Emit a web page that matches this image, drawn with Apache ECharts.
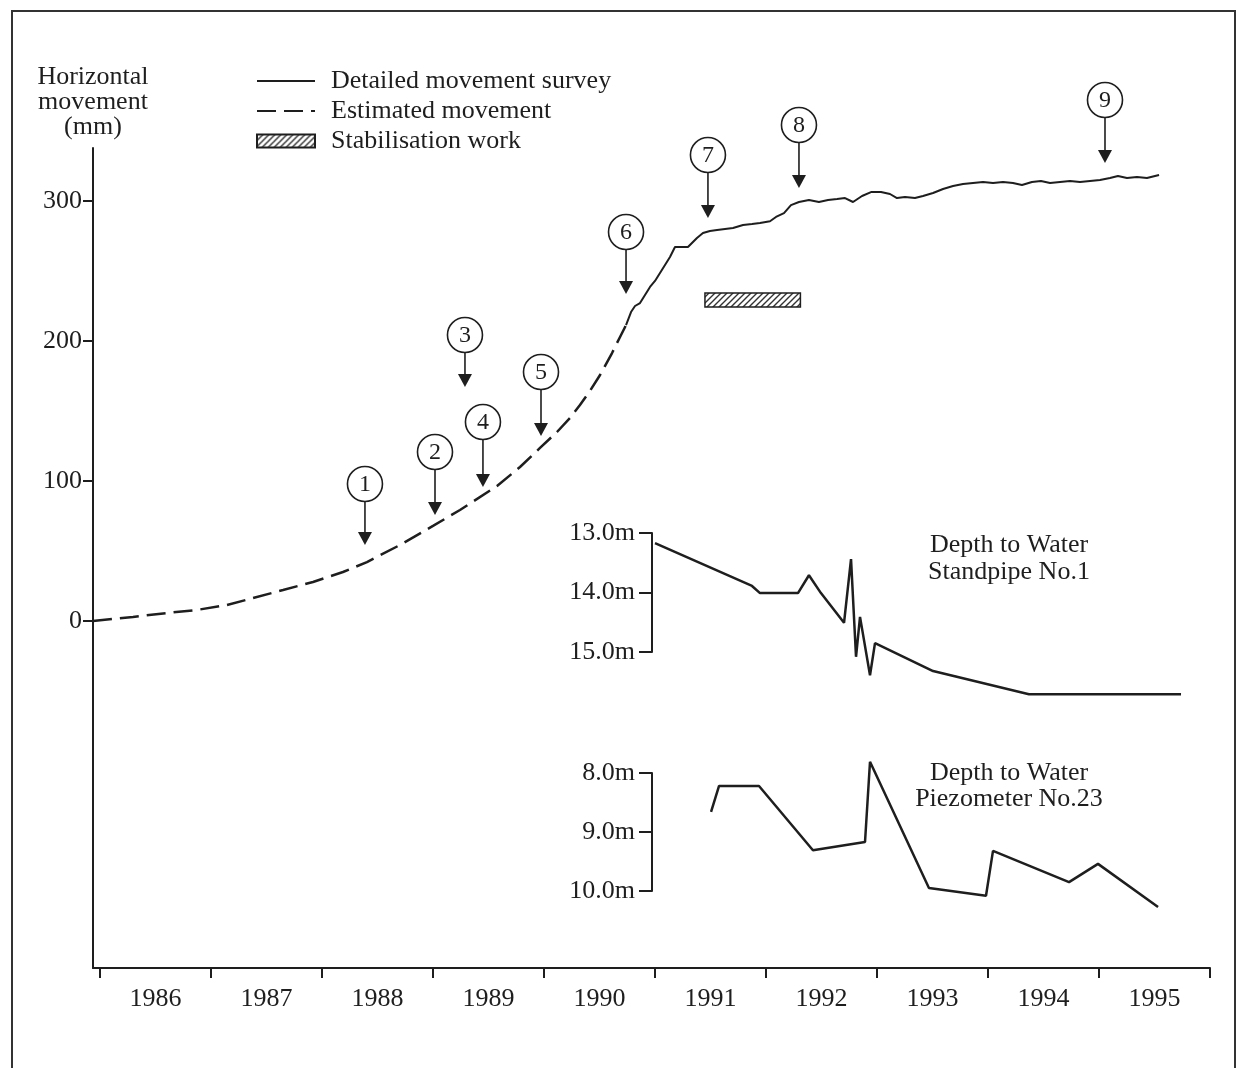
<!DOCTYPE html>
<html>
<head>
<meta charset="utf-8">
<script src="https://cdn.jsdelivr.net/npm/echarts@6/dist/echarts.min.js"></script>
<style>
  html, body { margin: 0; padding: 0; background: #fff; }
  #chart { width: 1246px; height: 1068px; }
</style>
</head>
<body>
<div id="chart"></div>
<script>
// estimated movement (dashed), year vs mm
const estYears = [1985.937, 1986.297, 1986.604, 1986.874, 1987.144, 1987.378, 1987.649, 1987.919, 1988.189, 1988.405,
  1988.703, 1989.0, 1989.243, 1989.577, 1989.784, 1989.964, 1990.117, 1990.234, 1990.324, 1990.414,
  1990.505, 1990.613, 1990.685, 1990.739]
const estMovement = [0, 2.9, 5.7, 7.9, 11.4, 16.4, 22.1, 27.9, 35, 42.1,
  54.3, 67.9, 79.3, 96.4, 110, 123.6, 135, 145, 154.3, 164.3,
  175.7, 191.4, 202.9, 211.4]

// detailed movement survey (solid)
const surveyYears = [1990.739, 1990.784, 1990.820, 1990.865, 1990.910, 1990.955, 1991.000, 1991.045, 1991.090, 1991.135,
  1991.180, 1991.297, 1991.378, 1991.432, 1991.495, 1991.559, 1991.631, 1991.703, 1991.793, 1991.874,
  1991.946, 1992.036, 1992.090, 1992.162, 1992.225, 1992.297, 1992.387, 1992.477, 1992.559, 1992.640,
  1992.712, 1992.784, 1992.865, 1992.946, 1993.036, 1993.117, 1993.180, 1993.252, 1993.342, 1993.414,
  1993.505, 1993.595, 1993.685, 1993.775, 1993.865, 1993.955, 1994.045, 1994.135, 1994.225, 1994.306,
  1994.396, 1994.477, 1994.559, 1994.649, 1994.739, 1994.829, 1994.919, 1995.009, 1995.099, 1995.171,
  1995.252, 1995.342, 1995.432, 1995.541]
const surveyMovement = [211.4, 220.7, 225, 227.1, 232.9, 238.6, 242.9, 248.6, 254.3, 260,
  267.1, 267.1, 273.6, 277.1, 278.6, 279.3, 280, 280.7, 282.9, 283.6,
  284.3, 285.5, 288.6, 291.4, 297.1, 299.3, 300.7, 299.3, 300.7, 301.4,
  302.1, 299.3, 303.6, 306.4, 306.4, 305, 302.1, 302.9, 302.1, 303.6,
  305.7, 308.6, 310.7, 312.1, 312.9, 313.6, 312.9, 313.6, 312.9, 311.4,
  313.6, 314.3, 312.9, 313.6, 314.3, 313.6, 314.3, 315, 316.4, 317.9,
  316.4, 317.1, 316.4, 318.6]

// stabilisation work period and band (mm)
const stabPeriod = [1991.45, 1992.31]
const stabBand = [224.3, 234.3]

// numbered events
const markerNums = ['1', '2', '3', '4', '5', '6', '7', '8', '9']
const markerYears = [1988.387, 1989.018, 1989.288, 1989.450, 1989.973, 1990.739, 1991.477, 1992.297, 1995.054]
const markerTips = [54.3, 75.7, 167.1, 95.7, 132.1, 233.6, 287.9, 309.3, 327.1]
const markerCircles = [97.9, 120.7, 204.3, 142.1, 177.9, 277.9, 332.9, 354.3, 372.1]

// depth to water, standpipe no.1 (m)
const standpipeYears = [1991.0, 1991.874, 1991.946, 1992.288, 1992.387, 1992.495, 1992.703, 1992.766, 1992.811, 1992.847,
  1992.937, 1992.982, 1993.505, 1994.369, 1995.739]
const standpipeDepth = [13.17, 13.89, 14.01, 14.01, 13.71, 14.01, 14.51, 13.44, 15.08, 14.41,
  15.39, 14.85, 15.32, 15.71, 15.71]

// depth to water, piezometer no.23 (m)
const piezoYears = [1991.505, 1991.577, 1991.937, 1992.423, 1992.892, 1992.937, 1993.468, 1993.982, 1994.045, 1994.730,
  1994.991, 1995.532]
const piezoDepth = [8.66, 8.22, 8.22, 9.31, 9.17, 7.81, 9.95, 10.08, 9.32, 9.85,
  9.54, 10.27]

const yearTicks = [1986, 1987, 1988, 1989, 1990, 1991, 1992, 1993, 1994, 1995, 1996]
const yearLabels = [1986.5, 1987.5, 1988.5, 1989.5, 1990.5, 1991.5, 1992.5, 1993.5, 1994.5, 1995.5]
const movementTicks = [0, 100, 200, 300]

const ink = '#1e1e1e'
const serif = '"Liberation Serif", "DejaVu Serif", serif'
const xMin = 1986 - 7 / 111

const zip = (xs, ys) => xs.map((x, i) => [x, ys[i]])

// hatch fill for the stabilisation bar
const hatch = document.createElement('canvas')
hatch.width = 6
hatch.height = 6
const hc = hatch.getContext('2d')
hc.fillStyle = '#fff'
hc.fillRect(0, 0, 6, 6)
hc.strokeStyle = '#333'
hc.lineWidth = 1.4
hc.beginPath()
hc.moveTo(0, 6); hc.lineTo(6, 0)
hc.moveTo(-1, 1); hc.lineTo(1, -1)
hc.moveTo(5, 7); hc.lineTo(7, 5)
hc.stroke()
const hatchFill = { image: hatch, repeat: 'repeat' }

function renderMarker(params, api) {
  const tip = api.coord([api.value(0), api.value(1)])
  const ctr = api.coord([api.value(0), api.value(2)])
  const r = 17.5
  const head = 13
  return {
    type: 'group',
    children: [
      { type: 'line', shape: { x1: ctr[0], y1: ctr[1] + r, x2: tip[0], y2: tip[1] - head + 1 }, style: { stroke: ink, lineWidth: 1.6 } },
      { type: 'polygon', shape: { points: [[tip[0] - 7, tip[1] - head], [tip[0] + 7, tip[1] - head], [tip[0], tip[1]]] }, style: { fill: ink } },
      { type: 'circle', shape: { cx: ctr[0], cy: ctr[1], r: r }, style: { fill: '#fff', stroke: ink, lineWidth: 1.6 } },
      { type: 'text', style: { text: markerNums[params.dataIndex], x: ctr[0], y: ctr[1] + 1, align: 'center', verticalAlign: 'middle', font: '24px ' + serif, fill: ink } }
    ]
  }
}

function renderStab(params, api) {
  const a = api.coord([api.value(0), api.value(3)])
  const b = api.coord([api.value(1), api.value(2)])
  return {
    type: 'rect',
    shape: { x: a[0], y: a[1], width: b[0] - a[0], height: b[1] - a[1] },
    style: { fill: hatchFill, stroke: ink, lineWidth: 1.5 }
  }
}

const insetAxis = (grid, lo, hi) => ({
  gridIndex: grid,
  type: 'value',
  min: lo,
  max: hi,
  interval: 1,
  inverse: true,
  offset: 93 - 652,
  axisLine: { show: true, onZero: false, lineStyle: { color: ink, width: 2 } },
  axisTick: { show: true, length: 13, lineStyle: { color: ink, width: 2 } },
  axisLabel: { margin: 17, color: ink, fontSize: 26, fontFamily: serif, formatter: v => v.toFixed(1) + 'm' },
  splitLine: { show: false }
})

const hiddenX = grid => ({ gridIndex: grid, type: 'value', min: xMin, max: 1996, show: false })

// legend line icons: hide the default symbol dot
const noDot = { color: 'rgba(0,0,0,0)', borderWidth: 0, opacity: 0 }

const option = {
  animation: false,
  backgroundColor: '#fff',
  textStyle: { fontFamily: serif, color: ink },
  grid: [
    { left: 93, right: 36, top: 148, bottom: 100 },
    { left: 93, right: 36, top: 533, height: 119 },
    { left: 93, right: 36, top: 773, height: 118 }
  ],
  legend: {
    left: 251,
    top: 61,
    orient: 'vertical',
    selectedMode: false,
    itemWidth: 58,
    itemHeight: 13,
    itemGap: 0,
    textStyle: { fontSize: 26, fontFamily: serif, color: ink, lineHeight: 30, padding: [0, 0, 0, 11] },
    data: [
      { name: 'Detailed movement survey', itemStyle: noDot },
      { name: 'Estimated movement', itemStyle: noDot },
      { name: 'Stabilisation work', icon: 'rect' }
    ]
  },
  xAxis: [
    {
      gridIndex: 0,
      type: 'value',
      min: xMin,
      max: 1996,
      axisLine: { onZero: false, lineStyle: { color: ink, width: 2 } },
      axisTick: { customValues: yearTicks, length: 10, lineStyle: { color: ink, width: 2 } },
      axisLabel: { customValues: yearLabels, formatter: v => String(Math.floor(v)), margin: 18, color: ink, fontSize: 26, fontFamily: serif },
      splitLine: { show: false }
    },
    hiddenX(1),
    hiddenX(2)
  ],
  yAxis: [
    {
      gridIndex: 0,
      type: 'value',
      min: -247.86,
      max: 337.86,
      name: 'Horizontal\nmovement\n(mm)',
      nameLocation: 'end',
      nameGap: 8,
      nameTextStyle: { align: 'center', fontSize: 26, lineHeight: 25, fontFamily: serif, color: ink },
      axisLine: { show: true, onZero: false, lineStyle: { color: ink, width: 2 } },
      axisTick: { show: true, customValues: movementTicks, length: 10, lineStyle: { color: ink, width: 2 } },
      axisLabel: { customValues: movementTicks, margin: 11, color: ink, fontSize: 26, fontFamily: serif },
      splitLine: { show: false }
    },
    insetAxis(1, 13, 15),
    insetAxis(2, 8, 10)
  ],
  graphic: [
    { type: 'rect', shape: { x: 12, y: 11, width: 1223, height: 1090 }, style: { fill: 'none', stroke: '#333', lineWidth: 2 }, silent: true },
    { type: 'text', x: 1009, y: 532, style: { text: 'Depth to Water\nStandpipe No.1', align: 'center', font: '26px ' + serif, lineHeight: 27, fill: ink } },
    { type: 'text', x: 1009, y: 760, style: { text: 'Depth to Water\nPiezometer No.23', align: 'center', font: '26px ' + serif, lineHeight: 26, fill: ink } }
  ],
  series: [
    {
      name: 'Detailed movement survey',
      type: 'line',
      xAxisIndex: 0,
      yAxisIndex: 0,
      symbol: 'none',
      lineStyle: { color: ink, width: 2 },
      itemStyle: { color: ink },
      data: zip(surveyYears, surveyMovement)
    },
    {
      name: 'Estimated movement',
      type: 'line',
      xAxisIndex: 0,
      yAxisIndex: 0,
      symbol: 'none',
      lineStyle: { color: ink, width: 2.5, type: [19, 8] },
      itemStyle: { color: ink },
      data: zip(estYears, estMovement)
    },
    {
      name: 'Stabilisation work',
      type: 'custom',
      xAxisIndex: 0,
      yAxisIndex: 0,
      itemStyle: { color: hatchFill, borderColor: ink, borderWidth: 1.5 },
      encode: { x: [0, 1], y: [2, 3] },
      renderItem: renderStab,
      data: [[stabPeriod[0], stabPeriod[1], stabBand[0], stabBand[1]]]
    },
    {
      type: 'custom',
      xAxisIndex: 0,
      yAxisIndex: 0,
      clip: false,
      encode: { x: 0, y: [1, 2] },
      renderItem: renderMarker,
      data: markerYears.map((x, i) => [x, markerTips[i], markerCircles[i]])
    },
    {
      type: 'line',
      xAxisIndex: 1,
      yAxisIndex: 1,
      symbol: 'none',
      clip: false,
      lineStyle: { color: ink, width: 2.5 },
      data: zip(standpipeYears, standpipeDepth)
    },
    {
      type: 'line',
      xAxisIndex: 2,
      yAxisIndex: 2,
      symbol: 'none',
      clip: false,
      lineStyle: { color: ink, width: 2.5 },
      data: zip(piezoYears, piezoDepth)
    }
  ]
}

const chart = echarts.init(document.getElementById('chart'))
chart.setOption(option)
</script>
</body>
</html>
